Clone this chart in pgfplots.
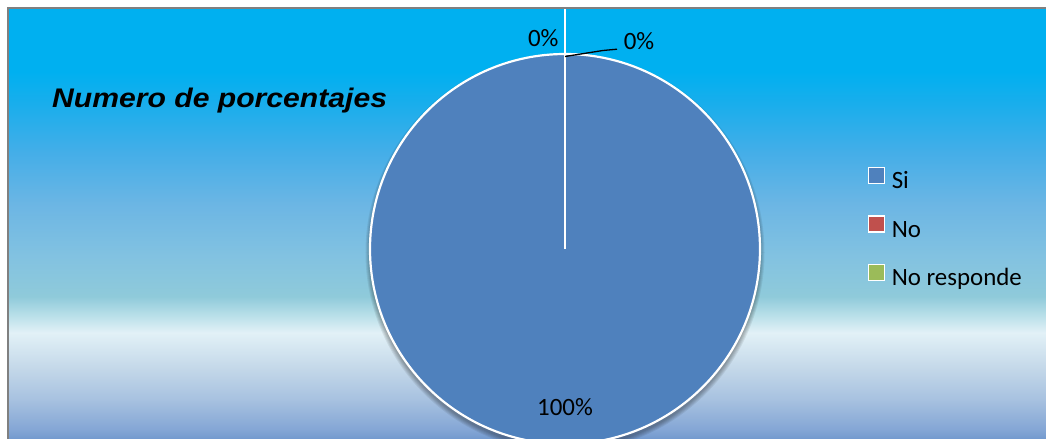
\documentclass[border=0pt]{standalone}
\usepackage{pgfplots}
\pgfplotsset{compat=1.18}
\usepackage{fontspec}
\setmainfont{Carlito}
\newfontfamily\titlefont{Liberation Sans}
\definecolor{pieblue}{HTML}{4F81BD}
\definecolor{piered}{HTML}{C0504D}
\definecolor{piegreen}{HTML}{9BBB59}
\definecolor{ga}{HTML}{5F8BC6}
\definecolor{gb}{HTML}{84A6D5}
\definecolor{gc}{HTML}{A8C2E0}
\definecolor{gd}{HTML}{C4D8E9}
\definecolor{ge}{HTML}{E2F1F7}
\definecolor{gf}{HTML}{BCE1EA}
\definecolor{gg}{HTML}{8FCADA}
\definecolor{gh}{HTML}{82C2E1}
\definecolor{gi}{HTML}{6CB6E4}
\definecolor{gj}{HTML}{45AEE8}
\definecolor{gk}{HTML}{18AEEC}
\definecolor{gl}{HTML}{00B0F0}
\pgfdeclareverticalshading{bgshade}{100bp}{
 color(0bp)=(ga); color(25bp)=(ga); color(27.2bp)=(gb); color(30.7bp)=(gc);
 color(34.2bp)=(gd); color(38.2bp)=(ge); color(40bp)=(gf); color(42.3bp)=(gg);
 color(46.9bp)=(gh); color(52.7bp)=(gi); color(58.5bp)=(gj); color(64.3bp)=(gk);
 color(67.8bp)=(gl); color(75bp)=(gl); color(100bp)=(gl)}
% slice values (percent)
\def\vSi{100}
\def\vNo{0}
\def\vNR{0}
\begin{document}
\begin{tikzpicture}
\begin{axis}[
  at={(0,0)}, anchor=origin,
  scale only axis, width=1046bp, height=439bp,
  xmin=0, xmax=1046, ymin=0, ymax=439,
  hide axis, clip=false,
  legend style={at={(axis cs:867.4,272.3)}, anchor=north west, draw=none, fill=none,
    font=\fontsize{25}{30}\selectfont, row sep=21.5pt, inner sep=0pt,
    nodes={inner sep=0pt, text height=16pt, text depth=5pt},
    /tikz/every odd column/.append style={column sep=7pt}},
  legend cell align=left,
  legend image code/.code={\draw[#1, draw=white, line width=1.2pt] (0pt,0pt) rectangle (16bp,16bp);},
]
% background
\fill[white] (axis cs:-5,-5) rectangle (axis cs:1060,445);
\shade[shading=bgshade] (axis cs:8,-10) rectangle (axis cs:1060,431);
\draw[gray, line width=2pt] (axis cs:8,-10) -- (axis cs:8,431) -- (axis cs:1060,431);
% soft shadow
\fill[black, opacity=0.07] (axis cs:565,186.5) circle[radius=199.5bp];
\fill[black, opacity=0.07] (axis cs:565,186.5) circle[radius=198.5bp];
\fill[black, opacity=0.07] (axis cs:565,186.5) circle[radius=197.5bp];
\fill[black, opacity=0.07] (axis cs:565,186.5) circle[radius=196.5bp];
\fill[black, opacity=0.07] (axis cs:565,186.5) circle[radius=195.5bp];
% slices
\fill[pieblue] (axis cs:565,190) -- ++(90:195bp) arc[start angle=90, delta angle={-3.6*\vSi}, radius=195bp] -- cycle;
\fill[piered] (axis cs:565,190) -- ++({90-3.6*\vSi}:195bp) arc[start angle={90-3.6*\vSi}, delta angle={-3.6*\vNo}, radius=195bp] -- cycle;
\fill[piegreen] (axis cs:565,190) -- ++({90-3.6*(\vSi+\vNo)}:195bp) arc[start angle={90-3.6*(\vSi+\vNo)}, delta angle={-3.6*\vNR}, radius=195bp] -- cycle;
\draw[white, line width=2.2pt] (axis cs:565,190) circle[radius=195bp];
\draw[white, line width=2pt] (axis cs:565,190) -- (axis cs:565,430);
% leader line
\draw[black, line width=1.3pt] (axis cs:565,382.5) -- (axis cs:603,388.5) -- (axis cs:617,389.8);
% data labels
\node[anchor=base, inner sep=0pt, font=\fontsize{25}{30}\selectfont] at (axis cs:543.3,392.3) {0\%};
\node[anchor=base, inner sep=0pt, font=\fontsize{25}{30}\selectfont] at (axis cs:639,389.7) {0\%};
\node[anchor=base, inner sep=0pt, font=\fontsize{25}{30}\selectfont] at (axis cs:565,24) {100\%};
% title
\node[anchor=base west, inner sep=0pt, xscale=1.12] at (axis cs:52,331) {\titlefont\bfseries\itshape\fontsize{27}{30}\selectfont Numero de porcentajes};
% legend
\addlegendimage{fill=pieblue}
\addlegendentry{Si}
\addlegendimage{fill=piered}
\addlegendentry{No}
\addlegendimage{fill=piegreen}
\addlegendentry{No responde}
\end{axis}
\pgfresetboundingbox
\path[use as bounding box] (0,0) rectangle (1046bp,439bp);
\end{tikzpicture}
\end{document}
